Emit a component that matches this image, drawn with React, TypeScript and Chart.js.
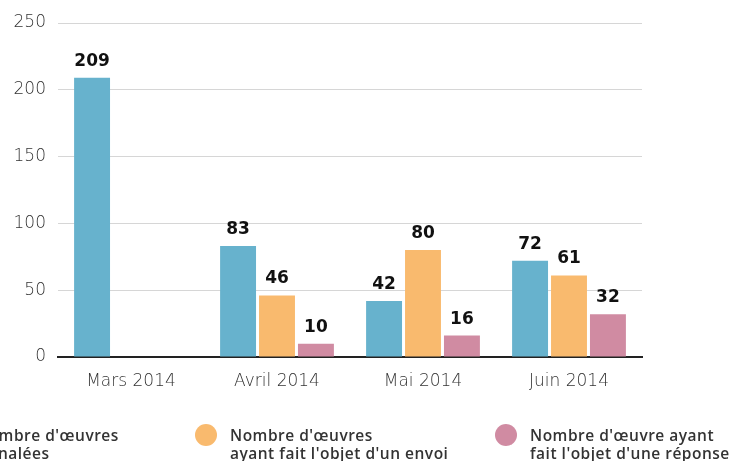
import React, { useEffect, useRef } from "react";
import { Chart, registerables } from "chart.js";

Chart.register(...registerables);

const categories = ["Mars 2014", "Avril 2014", "Mai 2014", "Juin 2014"];
const signalees = [209, 83, 42, 72];
const envoi = [null, 46, 80, 61];
const reponse = [null, 10, 16, 32];
const yTicks = [0, 50, 100, 150, 200, 250];

const seriesNames = [
  ["Nombre d'œuvres", "signalées"],
  ["Nombre d'œuvres", "ayant fait l'objet d'un envoi"],
  ["Nombre d'œuvre ayant", "fait l'objet d'une réponse"],
];
const colors = ["#67b2cd", "#f9ba6e", "#d08ba2"];

const FONT = "'Open Sans', sans-serif";
const TICKFONT = "'DejaVu Sans', sans-serif";

const labelPlugin = {
  id: "valueLabels",
  afterDatasetsDraw(chart: any) {
    const ctx = chart.ctx;
    ctx.save();
    ctx.font = `700 17px ${TICKFONT}`;
    ctx.fillStyle = "#111";
    ctx.textAlign = "center";
    ctx.textBaseline = "bottom";
    chart.data.datasets.forEach((ds: any, i: number) => {
      const meta = chart.getDatasetMeta(i);
      meta.data.forEach((el: any, j: number) => {
        const v = ds.data[j];
        if (v === null || v === undefined) return;
        ctx.fillText(String(v), el.x, el.y - 8);
      });
    });
    ctx.restore();
  },
};

export default function App() {
  const ref = useRef<HTMLCanvasElement>(null);
  useEffect(() => {
    if (!ref.current) return;
    const chart = new Chart(ref.current, {
      type: "bar",
      data: {
        labels: categories,
        datasets: [
          { label: seriesNames[0].join(" "), data: signalees, backgroundColor: colors[0] },
          { label: seriesNames[1].join(" "), data: envoi as any, backgroundColor: colors[1] },
          { label: seriesNames[2].join(" "), data: reponse as any, backgroundColor: colors[2] },
        ],
      },
      options: {
        responsive: false,
        animation: false,
        devicePixelRatio: 1,
        layout: { padding: { top: 23, right: 87, left: 0, bottom: 0 } },
        datasets: { bar: { categoryPercentage: 0.8, barPercentage: 0.923 } } as any,
        plugins: { legend: { display: false }, tooltip: { enabled: false } },
        scales: {
          x: {
            grid: { display: false, drawTicks: false },
            border: { display: true, color: "#222", width: 2 },
            ticks: { color: "#333", font: { family: TICKFONT, size: 17, weight: 200 as any }, padding: 14 },
            afterFit: (s: any) => { s.height = 104; },
          },
          y: {
            min: 0,
            max: 250,
            afterBuildTicks: (s: any) => { s.ticks = yTicks.map((v) => ({ value: v })); },
            grid: { color: "#d6d6d6", lineWidth: 1, drawTicks: false },
            border: { display: false },
            ticks: { color: "#333", font: { family: TICKFONT, size: 17, weight: 200 as any }, padding: 12 },
            afterFit: (s: any) => { s.width = 58; },
          },
        },
      },
      plugins: [labelPlugin],
    });
    return () => chart.destroy();
  }, []);

  const legendPos = [-24, 230, 530];
  return (
    <div style={{ position: "fixed", left: 0, top: 0, width: 729, height: 461, overflow: "hidden", background: "#fff" }}>
      <canvas ref={ref} width={729} height={461} style={{ position: "absolute", left: 0, top: 0 }} />
      {seriesNames.map((lines, i) => (
        <div key={i} style={{ position: "absolute", left: legendPos[i], top: 426, whiteSpace: "nowrap" }}>
          <div style={{ position: "absolute", left: -35, top: -2, width: 22, height: 22, borderRadius: 11, background: colors[i] }} />
          <div style={{ fontFamily: FONT, fontWeight: 600, fontSize: 15.5, letterSpacing: 0.5, lineHeight: "18px", color: "#333" }}>
            {lines[0]}
            <br />
            {lines[1]}
          </div>
        </div>
      ))}
    </div>
  );
}
